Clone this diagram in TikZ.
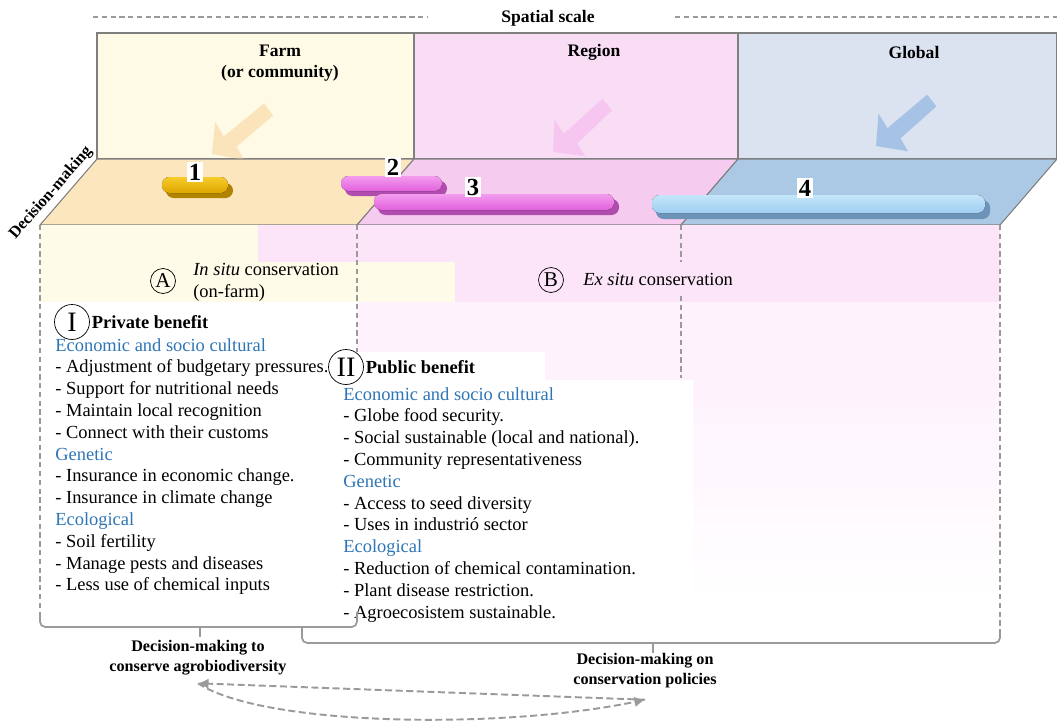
\documentclass[tikz,border=0pt]{standalone}
\usepackage{fontspec}
\setmainfont{Liberation Serif}
\usetikzlibrary{arrows.meta,positioning}

\definecolor{wallfarm}{HTML}{FEFAE6}
\definecolor{wallreg}{HTML}{F9DDF4}
\definecolor{wallglob}{HTML}{DCE3F0}
\definecolor{floorfarm}{HTML}{FCE6BE}
\definecolor{floorreg}{HTML}{F6CBF0}
\definecolor{floorglob}{HTML}{ABC8E4}
\definecolor{lowfarm}{HTML}{FEFCE8}
\definecolor{lowpink}{HTML}{FCE5F9}
\definecolor{lowpale}{HTML}{FEF2FD}
\definecolor{arrfarm}{HTML}{FBE4BC}
\definecolor{arrreg}{HTML}{F6C6F0}
\definecolor{arrglob}{HTML}{A6C3E6}
\definecolor{goldtop}{HTML}{F7CB2A}
\definecolor{goldbot}{HTML}{DDA600}
\definecolor{golddark}{HTML}{B08400}
\definecolor{magtop}{HTML}{F39CEE}
\definecolor{magbot}{HTML}{E261DD}
\definecolor{magdark}{HTML}{B04CAD}
\definecolor{blutop}{HTML}{C4E6FA}
\definecolor{blubot}{HTML}{9FCDF0}
\definecolor{bludark}{HTML}{6E93B8}
\definecolor{linegray}{HTML}{7F7F7F}
\definecolor{dashgray}{HTML}{9A9A9A}
\definecolor{hblue}{HTML}{2E75B6}

\begin{document}
\begin{tikzpicture}[x=0.02cm, y=-0.02cm,
  every node/.style={font=\fontsize{10.5}{12.4}\selectfont},
  edge/.style={draw=linegray, line width=0.6pt},
  guide/.style={draw=dashgray, line width=0.8pt, dash pattern=on 3pt off 2pt},
  brace/.style={draw=dashgray, line width=1pt, rounded corners=3pt},
  cyc/.style={draw=dashgray, line width=1.1pt, dash pattern=on 4pt off 2pt, -{Latex[length=6pt,width=6pt]}},
  num/.style={fill=white, inner sep=1pt, font=\bfseries\fontsize{14}{14}\selectfont},
  head/.style={font=\bfseries\fontsize{10}{11.9}\selectfont},
  foot/.style={font=\bfseries\fontsize{9.2}{11.3}\selectfont, align=center},
  ring/.style={draw, circle, inner sep=0pt},
  lst/.style={anchor=north west, align=left, inner sep=0pt},
  pill/.style={rounded corners=0.15cm}]
\useasboundingbox (0,0) rectangle (1057,723);

% back wall
\filldraw[edge, fill=wallfarm] (97,33) rectangle (414,159);
\filldraw[edge, fill=wallreg] (414,33) rectangle (738,159);
\filldraw[edge, fill=wallglob] (738,33) rectangle (1057,159);

% faded arrows on the wall
\begin{scope}[shift={(212,154)}, rotate=217]
  \fill[arrfarm] (0,0) -- (-22,24) -- (-20,7) -- (-72,9) -- (-72,-6) -- (-24,-9) -- (-22,-24) -- cycle;
\end{scope}
\begin{scope}[shift={(553,152)}, rotate=220]
  \fill[arrreg] (0,0) -- (-22,24) -- (-20,7) -- (-72,9) -- (-72,-6) -- (-24,-9) -- (-22,-24) -- cycle;
\end{scope}
\begin{scope}[shift={(876,146)}, rotate=218]
  \fill[arrglob] (0,0) -- (-22,24) -- (-20,7) -- (-72,9) -- (-72,-6) -- (-24,-9) -- (-22,-24) -- cycle;
\end{scope}

% floor
\filldraw[edge, fill=floorfarm] (40,225) -- (97,159) -- (414,159) -- (357,225) -- cycle;
\filldraw[edge, fill=floorreg] (357,225) -- (414,159) -- (738,159) -- (681,225) -- cycle;
\filldraw[edge, fill=floorglob] (681,225) -- (738,159) -- (1057,159) -- (1000,225) -- cycle;

% bars
\fill[pill, fill=golddark] (166,183) rectangle (233,198);
\fill[pill, top color=goldtop, bottom color=goldbot] (162,177) rectangle (228,193);
\fill[pill, fill=magdark] (345,181) rectangle (447,196);
\fill[pill, top color=magtop, bottom color=magbot] (341,176) rectangle (442,191);
\fill[pill, fill=magdark] (378,199) rectangle (619,215);
\fill[pill, top color=magtop, bottom color=magbot] (374,194) rectangle (614,210);
\fill[pill, fill=bludark] (656,200) rectangle (990,219);
\fill[pill, top color=blutop, bottom color=blubot] (652,195) rectangle (985,213);

\node[num] (n1) at (195,172) {1};
\node[num] (n2) at (393,167) {2};
\node[num] (n3) at (473,187) {3};
\node[num] (n4) at (805,188) {4};

% lower background
\fill[lowfarm] (40,225) rectangle (455,302);
\fill[lowpink] (258,225) rectangle (1000,262);
\fill[lowpink] (455,262) rectangle (1000,302);
\fill[lowpale] (357,302) rectangle (1000,380);
\shade[top color=lowpale, bottom color=white] (680,380) rectangle (1000,600);
\fill[white] (333,352) rectangle (545,380);
\fill[white] (333,380) rectangle (693,630);

% scale lines
\draw[guide] (93,17) -- (428,17);
\draw[guide] (675,17) -- (1057,17);
\node[head] (scale) at (548,18) {Spatial scale};
\draw[guide] (40,225) -- (40,612);
\draw[guide] (357,225) -- (357,352);
\draw[guide] (681,225) -- (681,262);
\draw[guide] (681,296) -- (681,378);
\draw[guide] (1000,225) -- (1000,630);

\node[head, align=center] (farm) at (280,63) {Farm\\(or community)};
\node[head] (region) at (594,52) {Region};
\node[head] (global) at (914,52) {Global};
\node[font=\bfseries\fontsize{9.3}{9.3}\selectfont, rotate=49] (dmaxis) at (51,193) {Decision-making};

% conservation types
\node[ring, minimum size=0.5cm, font=\fontsize{12}{12}\selectfont] (cA) at (163,281) {A};
\node[anchor=west, align=left, inner sep=0pt] (insitu) at (193,282) {\textit{In situ} conservation\\(on-farm)};
\node[ring, minimum size=0.5cm, font=\fontsize{12}{12}\selectfont] (cB) at (551,280) {B};
\node[anchor=west, inner sep=0pt] (exsitu) at (583,279) {\textit{Ex situ} conservation};

% private benefit
\node[ring, minimum size=0.7cm, font=\fontsize{16}{16}\selectfont] (cI) at (72,322) {I};
\node[right=1pt of cI, inner sep=0pt, font=\bfseries\fontsize{10.5}{12.4}\selectfont] (privhead) {Private benefit};
\node[lst] (privlist) at (55,338) {\textcolor{hblue}{Economic and socio cultural}\\
- Adjustment of budgetary pressures.\\
- Support for nutritional needs\\
- Maintain local recognition\\
- Connect with their customs\\
\textcolor{hblue}{Genetic}\\
- Insurance in economic change.\\
- Insurance in climate change\\
\textcolor{hblue}{Ecological}\\
- Soil fertility\\
- Manage pests and diseases\\
- Less use of chemical inputs};

% public benefit
\node[ring, minimum size=0.7cm, font=\fontsize{16}{16}\selectfont] (cII) at (346,367) {II};
\node[right=1pt of cII, inner sep=0pt, font=\bfseries\fontsize{10.5}{12.4}\selectfont] (pubhead) {Public benefit};
\node[lst] (publist) at (343,387) {\textcolor{hblue}{Economic and socio cultural}\\
- Globe food security.\\
- Social sustainable (local and national).\\
- Community representativeness\\
\textcolor{hblue}{Genetic}\\
- Access to seed diversity\\
- Uses in industrió sector\\
\textcolor{hblue}{Ecological}\\
- Reduction of chemical contamination.\\
- Plant disease restriction.\\
- Agroecosistem sustainable.};

% braces
\draw[brace] (40,612) -- (40,627) -- (357,627) -- (357,612);
\draw[brace] (200,627) -- (200,637);
\draw[brace] (302,627) -- (302,643) -- (1000,643) -- (1000,630);
\draw[brace] (653,643) -- (653,653);

\node[foot] (dmfarm) at (198,658) {Decision-making to\\conserve agrobiodiversity};
\node[foot] (dmpol) at (645,671) {Decision-making on\\conservation policies};

\coordinate[below=1pt of dmfarm.south] (cycL);
\coordinate[below=3pt of dmpol.south] (cycR);
\draw[cyc] (cycR) -- (cycL);
\draw[cyc] (cycL) .. controls (262,726) and (500,730) .. (cycR);
\end{tikzpicture}
\end{document}
